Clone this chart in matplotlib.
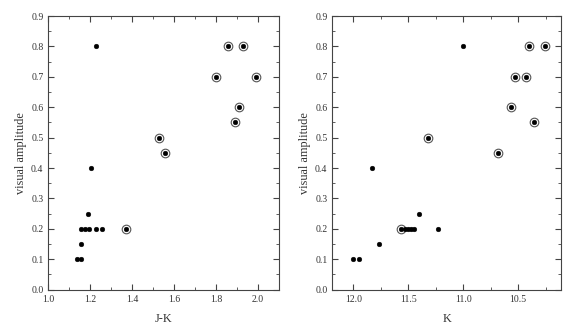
import matplotlib
matplotlib.use("Agg")
import matplotlib.pyplot as plt
from matplotlib.ticker import MultipleLocator, FormatStrFormatter

# Left panel: J-K vs visual amplitude
jk_filled = [1.228, 1.206, 1.188, 1.158, 1.177, 1.196, 1.227, 1.257, 1.158, 1.137, 1.158]
amp_jk_filled = [0.80, 0.40, 0.25, 0.20, 0.20, 0.20, 0.20, 0.20, 0.15, 0.10, 0.10]
jk_circled = [1.858, 1.928, 1.800, 1.989, 1.909, 1.890, 1.528, 1.558, 1.370]
amp_jk_circled = [0.80, 0.80, 0.70, 0.70, 0.60, 0.55, 0.50, 0.45, 0.20]

# Right panel: K vs visual amplitude
k_filled = [11.005, 11.827, 11.397, 11.527, 11.500, 11.473, 11.445, 11.227, 11.764, 12.005, 11.951]
amp_k_filled = [0.80, 0.40, 0.25, 0.20, 0.20, 0.20, 0.20, 0.20, 0.15, 0.10, 0.10]
k_circled = [10.400, 10.255, 10.524, 10.427, 10.566, 10.360, 11.318, 10.685, 11.566]
amp_k_circled = [0.80, 0.80, 0.70, 0.70, 0.60, 0.55, 0.50, 0.45, 0.20]

plt.rcParams['font.family'] = ['Liberation Serif', 'DejaVu Serif']

fig = plt.figure(figsize=(5.7, 3.24), dpi=100)
ax1 = fig.add_axes([0.0847, 0.1059, 0.4047, 0.8447])
ax2 = fig.add_axes([0.583, 0.1059, 0.4012, 0.8447])

edge = '#444444'
label_color = '#333333'

def style(ax):
    for s in ax.spines.values():
        s.set_color(edge)
        s.set_linewidth(0.8)
    ax.tick_params(which='both', direction='in', top=True, right=True,
                   color=edge, labelcolor=label_color, labelsize=7)
    ax.tick_params(which='major', length=4, width=0.8)
    ax.tick_params(which='minor', length=2, width=0.6)
    ax.set_ylim(0.0, 0.9)
    ax.yaxis.set_major_locator(MultipleLocator(0.1))
    ax.yaxis.set_minor_locator(MultipleLocator(0.05))
    ax.yaxis.set_major_formatter(FormatStrFormatter('%.1f'))
    ax.set_ylabel('visual amplitude', fontsize=8.8, color=label_color, labelpad=3)

def draw(ax, xf, yf, xc, yc):
    ax.plot(xc, yc, linestyle='none', marker='o', markersize=6.2,
            markerfacecolor='white', markeredgecolor='#555555', markeredgewidth=0.8)
    ax.plot(xf, yf, linestyle='none', marker='o', markersize=3.4,
            markerfacecolor='black', markeredgecolor='black', markeredgewidth=0.3)
    ax.plot(xc, yc, linestyle='none', marker='o', markersize=3.4,
            markerfacecolor='black', markeredgecolor='black', markeredgewidth=0.3)

draw(ax1, jk_filled, amp_jk_filled, jk_circled, amp_jk_circled)
style(ax1)
ax1.set_xlim(1.0, 2.1)
ax1.xaxis.set_major_locator(MultipleLocator(0.2))
ax1.xaxis.set_minor_locator(MultipleLocator(0.1))
ax1.xaxis.set_major_formatter(FormatStrFormatter('%.1f'))
ax1.set_xlabel('J-K', fontsize=8.8, color=label_color, labelpad=7)

draw(ax2, k_filled, amp_k_filled, k_circled, amp_k_circled)
style(ax2)
ax2.set_xlim(12.19, 10.11)
ax2.xaxis.set_major_locator(MultipleLocator(0.5))
ax2.xaxis.set_minor_locator(MultipleLocator(0.25))
ax2.xaxis.set_major_formatter(FormatStrFormatter('%.1f'))
ax2.set_xlabel('K', fontsize=8.8, color=label_color, labelpad=7)

fig.savefig('out.png', dpi=100, facecolor='white')
